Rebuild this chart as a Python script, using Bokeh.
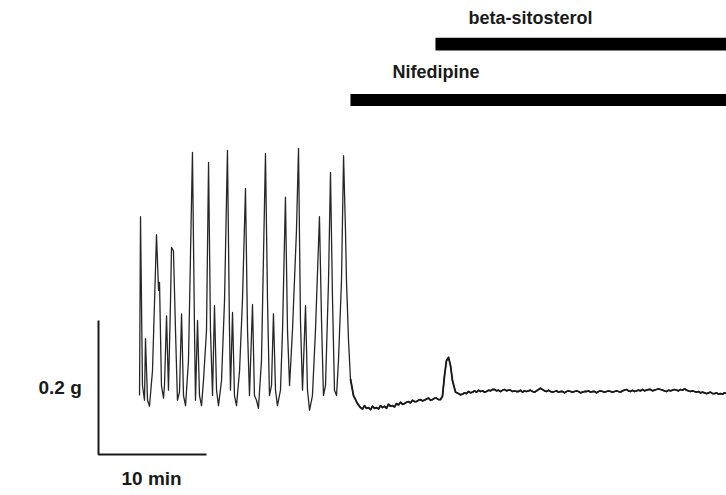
from bokeh.plotting import figure
from bokeh.models import Range1d, Label
from bokeh.embed import file_html
from bokeh.resources import INLINE

# ---- data (time in min, force in g) ----
time_min = [
    3.80, 3.89, 4.07, 4.26, 4.35, 4.54, 4.72, 5.00, 5.37, 5.56, 5.65, 5.83, 6.02, 6.11, 6.30, 6.48,
    6.67, 6.76, 6.94, 7.13, 7.31, 7.50, 7.69, 7.87, 8.06, 8.33, 8.70, 8.89, 8.98, 9.17, 9.35, 9.54,
    9.72, 10.00, 10.19, 10.37, 10.56, 10.74, 10.93, 11.11, 11.39, 11.67, 11.94, 12.13, 12.22, 12.41,
    12.59, 12.78, 13.06, 13.33, 13.61, 13.80, 13.98, 14.26, 14.44, 14.63, 14.81, 15.09, 15.46, 15.65,
    15.83, 16.02, 16.20, 16.39, 16.57, 16.85, 17.04, 17.31, 17.50, 17.69, 17.96, 18.33, 18.52, 18.70,
    18.89, 19.17, 19.35, 19.54, 19.81, 20.09, 20.46, 20.65, 20.83, 21.02, 21.30, 21.48, 21.67, 21.85,
    22.04, 22.22, 22.50, 22.69, 22.87, 22.96, 23.15, 23.33, 23.61, 23.98, 24.26,
    24.45, 24.63, 24.81, 25.00, 25.19, 25.37, 25.56, 25.74, 25.93, 26.11, 26.30, 26.48, 26.67, 26.85,
    27.04, 27.22, 27.41, 27.59, 27.78, 27.96, 28.15, 28.33, 28.52, 28.70, 28.89, 29.07, 29.26, 29.44,
    29.63, 29.81, 30.00, 30.19, 30.37, 30.56, 30.74, 30.93, 31.11, 31.30, 31.48, 31.67, 31.85, 32.04,
    32.22, 32.41, 32.59, 32.78, 33.06, 33.33, 33.52, 33.70, 33.89, 34.07, 34.26, 34.44, 34.63, 34.81,
    35.00, 35.19, 35.37, 35.56, 35.74, 35.93, 36.11, 36.30, 36.48, 36.67, 36.85, 37.04, 37.22, 37.41,
    37.59, 37.78, 37.96, 38.15, 38.33, 38.52, 38.70, 38.89, 39.07, 39.26, 39.44, 39.63, 39.81, 40.00,
    40.19, 40.37, 40.56, 40.74, 40.93, 41.11, 41.30, 41.48, 41.67, 41.85, 42.04, 42.22, 42.41, 42.59,
    42.78, 42.96, 43.15, 43.33, 43.52, 43.70, 43.89, 44.07, 44.26, 44.44, 44.63, 44.81, 45.00, 45.19,
    45.37, 45.56, 45.74, 45.93, 46.11, 46.30, 46.48, 46.67, 46.85, 47.04, 47.22, 47.41, 47.59, 47.78,
    47.96, 48.15, 48.33, 48.52, 48.70, 48.89, 49.07, 49.26, 49.44, 49.63, 49.81, 50.00, 50.19, 50.37,
    50.56, 50.74, 50.93, 51.11, 51.30, 51.48, 51.67, 51.85, 52.04, 52.22, 52.41, 52.59, 52.78, 52.96,
    53.15, 53.33, 53.52, 53.70, 53.89, 54.07, 54.26, 54.44, 54.63, 54.81, 55.00, 55.19, 55.37, 55.56,
    55.74, 55.93, 56.11, 56.30, 56.48, 56.67, 56.85, 57.04, 57.22, 57.41, 57.59, 57.78, 57.96, 58.15,
]
force_g = [
    0.088, 0.355, 0.103, 0.081, 0.173, 0.081, 0.072, 0.125, 0.328, 0.245, 0.257, 0.103, 0.084, 0.103, 0.207, 0.096,
    0.230, 0.309, 0.304, 0.185, 0.081, 0.093, 0.210, 0.088, 0.073, 0.140, 0.451, 0.185, 0.081, 0.200, 0.088, 0.073,
    0.110, 0.185, 0.436, 0.185, 0.088, 0.222, 0.096, 0.073, 0.110, 0.230, 0.454, 0.185, 0.096, 0.212,
    0.088, 0.073, 0.125, 0.230, 0.397, 0.185, 0.088, 0.224, 0.088, 0.081, 0.069, 0.140, 0.449, 0.230,
    0.088, 0.103, 0.210, 0.096, 0.073, 0.096, 0.185, 0.384, 0.185, 0.103, 0.185, 0.334, 0.457, 0.200,
    0.096, 0.222, 0.096, 0.066, 0.088, 0.185, 0.355, 0.200, 0.088, 0.103, 0.260, 0.421, 0.230, 0.096,
    0.088, 0.140, 0.260, 0.446, 0.334, 0.260, 0.170, 0.113, 0.088, 0.076, 0.070,
    0.068, 0.073, 0.069, 0.070, 0.067, 0.072, 0.069, 0.070, 0.068, 0.073, 0.070, 0.072, 0.069, 0.075,
    0.072, 0.073, 0.071, 0.076, 0.074, 0.078, 0.075, 0.076, 0.078, 0.079, 0.077, 0.081, 0.079, 0.079,
    0.081, 0.082, 0.080, 0.081, 0.083, 0.084, 0.081, 0.082, 0.084, 0.084, 0.082, 0.082, 0.087, 0.118,
    0.140, 0.145, 0.133, 0.110, 0.093, 0.091, 0.089, 0.090, 0.092, 0.091, 0.094, 0.092, 0.093, 0.095,
    0.093, 0.096, 0.094, 0.095, 0.093, 0.094, 0.096, 0.095, 0.097, 0.097, 0.095, 0.096, 0.094, 0.096,
    0.097, 0.095, 0.096, 0.096, 0.094, 0.095, 0.094, 0.094, 0.096, 0.093, 0.095, 0.094, 0.095, 0.096,
    0.094, 0.093, 0.095, 0.097, 0.099, 0.097, 0.095, 0.094, 0.096, 0.094, 0.093, 0.094, 0.095, 0.093,
    0.094, 0.094, 0.092, 0.094, 0.095, 0.094, 0.093, 0.094, 0.095, 0.094, 0.092, 0.093, 0.094, 0.094,
    0.095, 0.093, 0.094, 0.094, 0.092, 0.094, 0.095, 0.094, 0.093, 0.094, 0.095, 0.094, 0.093, 0.094,
    0.095, 0.094, 0.093, 0.095, 0.096, 0.097, 0.095, 0.094, 0.096, 0.094, 0.095, 0.096, 0.095, 0.097,
    0.095, 0.096, 0.097, 0.097, 0.095, 0.096, 0.097, 0.098, 0.097, 0.096, 0.095, 0.094, 0.096, 0.095,
    0.096, 0.097, 0.096, 0.095, 0.097, 0.096, 0.098, 0.096, 0.095, 0.094, 0.095, 0.094, 0.093, 0.094,
    0.092, 0.093, 0.092, 0.091, 0.092, 0.093, 0.091, 0.091, 0.092, 0.090, 0.091, 0.090, 0.092, 0.091,
]

drug_names = ["Nifedipine", "beta-sitosterol"]
drug_start_min = [23.33, 31.20]
drug_end_min = [58.15, 58.15]

scale_time_min = 10      # horizontal calibration bar
scale_force_g = 0.2      # vertical calibration bar
scale_labels = ["10 min", "0.2 g"]

# ---- layout / style ----
W, H = 726, 495
FONT = "Liberation Sans"
INK = "#1a1a1a"

p = figure(width=W, height=H, output_backend="svg", toolbar_location=None,
           x_range=Range1d(-9.074, 58.148), y_range=Range1d(-0.0612, 0.6776),
           x_axis_type=None, y_axis_type=None, min_border=0,
           outline_line_color=None, background_fill_color="white",
           border_fill_color="white")
p.grid.visible = False

# contraction trace
p.line(time_min, force_g, line_color="#262626", line_width=1.3, line_join="round")
# noisier, heavier-looking trace after drug application (same data)
i0 = next(i for i, t in enumerate(time_min) if t >= drug_start_min[0])
p.line(time_min[i0:], force_g[i0:], line_color=INK, line_width=1.8, line_join="round")

# drug application bars
bar_top = [0.538, 0.622]
bar_bottom = [0.520, 0.603]
p.quad(left=drug_start_min, right=drug_end_min, top=bar_top, bottom=bar_bottom,
       fill_color="black", line_color=None)

# drug labels
label_x = [27.22, 34.26]
label_y = [0.571, 0.652]
for name, lx, ly in zip(drug_names, label_x, label_y):
    p.add_layout(Label(x=lx, y=ly, text=name, text_font=FONT, text_font_style="bold",
                       text_font_size="18px", text_color=INK, text_baseline="middle",
                       text_align="left"))

# calibration bars
p.line([0, 0, scale_time_min], [scale_force_g, 0, 0], line_color=INK, line_width=2)

p.add_layout(Label(x=2.13, y=-0.036, text=scale_labels[0], text_font=FONT,
                   text_font_style="bold", text_font_size="19px", text_color=INK,
                   text_baseline="middle", text_align="left"))
p.add_layout(Label(x=-5.56, y=0.100, text=scale_labels[1], text_font=FONT,
                   text_font_style="bold", text_font_size="19px", text_color=INK,
                   text_baseline="middle", text_align="left"))

open("out.html", "w").write(file_html(p, INLINE))
